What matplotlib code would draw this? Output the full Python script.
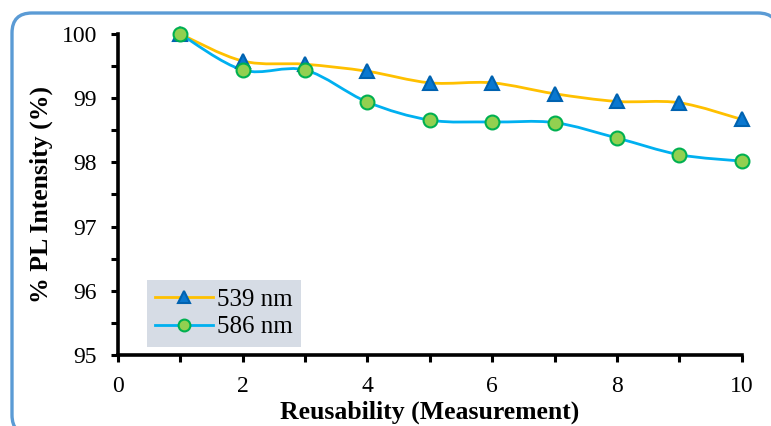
import numpy as np
import matplotlib
matplotlib.use("Agg")
import matplotlib.pyplot as plt
from matplotlib.path import Path
from matplotlib.patches import PathPatch, FancyBboxPatch
from matplotlib.lines import Line2D

# Reuse cycles and relative PL intensity for the two emission peaks
cycles = [1, 2, 3, 4, 5, 6, 7, 8, 9, 10]
pl_539 = [100.0, 99.58, 99.53, 99.42, 99.24, 99.24, 99.07, 98.95, 98.93, 98.67]
pl_586 = [100.0, 99.44, 99.44, 98.94, 98.66, 98.63, 98.62, 98.38, 98.12, 98.02]
series_names = ["539 nm", "586 nm"]
x_ticks = [0, 2, 4, 6, 8, 10]
y_ticks = [95, 96, 97, 98, 99, 100]

plt.rcParams["font.family"] = ["Liberation Serif", "DejaVu Serif"]

W, H = 771, 426
fig = plt.figure(figsize=(W / 100, H / 100), dpi=100)
ax = fig.add_axes([0.153, 0.167, 0.809, 0.753])

# rounded frame around the whole chart (pixel coordinates, origin bottom-left);
# a white face keeps the stroke from being clipped along the canvas edge
frame = FancyBboxPatch((12, -9), 778 - 12, 413 + 9, boxstyle="round,pad=0,rounding_size=20",
                       transform=None, facecolor="white", edgecolor="#5B9BD5", lw=2.4,
                       clip_on=False, zorder=-1)
fig.patches.append(frame)


def smooth_path(xs, ys):
    """Bezier path through the points, with tangent-based control points."""
    pts = np.column_stack([xs, ys]).astype(float)
    n = len(pts)
    verts = [pts[0]]
    codes = [Path.MOVETO]
    for i in range(n - 1):
        p0 = pts[i - 1] if i > 0 else pts[i]
        p1 = pts[i]
        p2 = pts[i + 1]
        p3 = pts[i + 2] if i + 2 < n else pts[i + 1]
        c1 = p1 + (p2 - p0) / 6.0
        c2 = p2 - (p3 - p1) / 6.0
        verts += [c1, c2, p2]
        codes += [Path.CURVE4] * 3
    return Path(verts, codes)


styles = [
    dict(line="#FFC000", marker="^", face="#0A78D0", edge="#0062B0", ms=10),
    dict(line="#00B0F0", marker="o", face="#92D050", edge="#00B050", ms=10),
]

handles = []
for ys, st, name in zip([pl_539, pl_586], styles, series_names):
    ax.add_patch(PathPatch(smooth_path(cycles, ys), facecolor="none",
                           edgecolor=st["line"], lw=2.0, zorder=2))
    ax.plot(cycles, ys, ls="none", marker=st["marker"], ms=st["ms"],
            mfc=st["face"], mec=st["edge"], mew=1.5, zorder=3, clip_on=False)
    handles.append(Line2D([], [], color=st["line"], lw=2.0, marker=st["marker"],
                          ms=st["ms"] * 0.85, mfc=st["face"], mec=st["edge"], mew=1.5))

ax.set_xlim(0, 10)
ax.set_ylim(95, 100)
ax.set_xticks(x_ticks)
ax.set_yticks(y_ticks)
ax.set_xticks(np.arange(0, 11, 1), minor=True)
ax.set_yticks(np.arange(95, 100.01, 0.5), minor=True)

for s in ["top", "right"]:
    ax.spines[s].set_visible(False)
for s in ["left", "bottom"]:
    ax.spines[s].set_linewidth(2.6)
    ax.spines[s].set_color("black")

ax.tick_params(axis="both", which="both", direction="out", width=2.2, length=5,
               labelsize=17, color="black")
ax.tick_params(axis="x", pad=10)
ax.tick_params(axis="y", pad=10)
ax.set_facecolor("none")

ax.set_xlabel("Reusability (Measurement)", fontsize=18.5, fontweight="bold", labelpad=3)
ax.set_ylabel("% PL Intensity (%)", fontsize=18.5, fontweight="bold", labelpad=6)

leg = ax.legend(handles, series_names, loc="lower left", bbox_to_anchor=(0.046, 0.024),
                frameon=True, fancybox=False, fontsize=18, handlelength=2.3,
                handletextpad=0.15, borderpad=0.35, labelspacing=0.2,
                borderaxespad=0)
leg.get_frame().set_facecolor("#D6DCE5")
leg.get_frame().set_edgecolor("none")
leg.get_frame().set_alpha(1)

fig.savefig("out.png", dpi=100)
